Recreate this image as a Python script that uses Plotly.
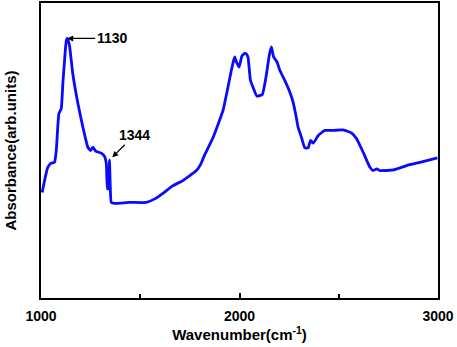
import plotly.graph_objects as go

wavenumber = [1006, 1020, 1034, 1051, 1068, 1077, 1090, 1102, 1110, 1118, 1124, 1128, 1132, 1137, 1144, 1160, 1186, 1211, 1236,
              1250, 1262, 1275, 1304, 1320, 1329, 1335, 1340, 1345, 1349, 1354, 1371, 1446, 1531, 1573,
              1614, 1665, 1715, 1783, 1805, 1825, 1867, 1917, 1942, 1959, 1968, 1976, 1985, 1998, 2012, 2026, 2035, 2043, 2055,
              2070, 2088, 2115, 2135, 2150, 2161, 2172, 2189, 2203, 2228, 2250, 2270, 2285, 2295, 2312, 2329, 2346, 2358, 2372,
              2397, 2430, 2472, 2522, 2565, 2590, 2623, 2657, 2674, 2691, 2707, 2775, 2842, 2909, 2997]
ypix = [191.7, 178, 166.7, 162.7, 161.7, 150, 113.3, 108.3, 83.3, 62, 46.7, 40, 38.3, 40, 46, 73.3, 103.3, 126.7, 146.7,
        150, 146.7, 150.7, 152.7, 156, 163.3, 188.3, 188, 159.3, 186.7, 201.7, 202.7, 201.7, 201.7, 198.3,
        192.7, 185, 180, 170, 163.5, 154, 137, 110, 86.7, 70, 62, 56.7, 62, 66.7, 56, 53.3, 54, 57, 80,
        88, 96, 94, 75, 55, 46.7, 56.7, 61.7, 70, 80, 90, 101.7, 116, 126.7, 136.7, 147.3, 147.3, 140, 142.7,
        135, 130, 130, 129.3, 132.7, 138.3, 151.7, 166.7, 170, 168.3, 170, 169.3, 165, 161.7, 157.3]
absorbance = [round((297 - p) / 294, 3) for p in ypix]

peak_labels = ["1130", "1344"]
peak_x = [1132, 1359]
peak_y = [round((297 - 38.3) / 294, 3), round((297 - 156.7) / 294, 3)]

fig = go.Figure()
fig.add_trace(go.Scatter(x=wavenumber, y=absorbance, mode="lines",
                         line=dict(color="#0a0aff", width=2.8, shape="spline", smoothing=0.4), showlegend=False))

fig.add_annotation(x=peak_x[0], y=peak_y[0], text="<b>" + peak_labels[0] + "</b>",
                   ax=45, ay=0, showarrow=True, arrowhead=2, arrowsize=1, arrowwidth=1.2,
                   arrowcolor="black", font=dict(size=14, color="black", family="Liberation Sans"))
fig.add_annotation(x=peak_x[1], y=peak_y[1], text="<b>" + peak_labels[1] + "</b>",
                   ax=22, ay=-22, showarrow=True, arrowhead=2, arrowsize=1, arrowwidth=1.2,
                   arrowcolor="black", font=dict(size=14, color="black", family="Liberation Sans"))

fig.update_layout(
    width=457, height=347,
    margin=dict(l=41, r=19, t=3, b=49),
    plot_bgcolor="white", paper_bgcolor="white",
    font=dict(family="Liberation Sans", color="black"),
    xaxis=dict(range=[1000, 3000], showline=True, linewidth=2, linecolor="black", mirror=True,
               automargin=False,
               ticks="inside", ticklen=5, tickwidth=1.5, tickcolor="black",
               tickvals=[1000, 2000, 3000], ticktext=["<b>1000</b>", "<b>2000</b>", "<b>3000</b>"],
               minor=dict(tickvals=[1500, 2500], ticks="inside", ticklen=4, tickwidth=1.5, tickcolor="black"),
               showgrid=False, zeroline=False, tickfont=dict(size=14), ticklabelstandoff=4,
               title=dict(text="<b>Wavenumber(cm<sup>-1</sup>)</b>", font=dict(size=15), standoff=6)),
    yaxis=dict(range=[0, 1], showline=True, linewidth=2, linecolor="black", mirror=True,
               automargin=False,
               showticklabels=False, ticks="", showgrid=False, zeroline=False,
               title=dict(text="<b>Absorbance(arb.units)</b>", font=dict(size=15), standoff=19)),
)

fig.write_html("out.html", config={"displayModeBar": False},
               post_script="document.body.style.margin='0';document.body.style.overflow='hidden';")
